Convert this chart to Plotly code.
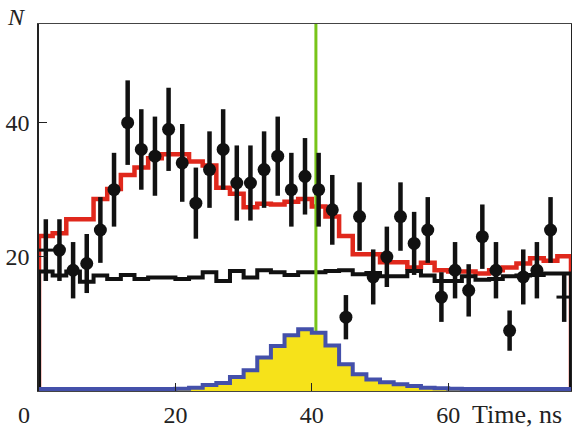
import plotly.graph_objects as go

# ---- data ----
bin_edges = [0, 2, 4, 6, 8, 10, 12, 14, 16, 18, 20, 22, 24, 26, 28, 30, 32, 34, 36, 38,
             40, 42, 44, 46, 48, 50, 52, 54, 56, 58, 60, 62, 64, 66, 68, 70, 72, 74, 76, 78]

red_total = [23.1, 23.5, 25.6, 25.6, 28.6, 30.1, 32.2, 33.3, 34.7, 35.3,
             35.3, 34.2, 33.6, 30.3, 29.4, 27.4, 27.9, 27.8, 28.2, 28.6,
             27.5, 26.0, 23.1, 20.4, 20.4, 19.2, 19.2, 18.4, 19.1, 18.0,
             17.8, 17.8, 17.5, 18.0, 18.4, 19.0, 19.8, 19.4, 20.1]

black_bg = [17.8, 17.2, 17.8, 16.3, 17.2, 16.7, 17.3, 16.7, 16.9, 16.9,
            16.7, 16.9, 17.7, 16.4, 17.9, 16.9, 18.0, 17.7, 17.3, 17.7,
            17.7, 17.9, 18.0, 17.4, 17.6, 17.1, 17.1, 17.9, 17.2, 16.4,
            16.4, 17.1, 16.6, 16.7, 17.1, 17.2, 17.3, 17.5, 17.5]

signal = [0.3, 0.3, 0.3, 0.3, 0.3, 0.3, 0.3, 0.3, 0.3, 0.3,
          0.35, 0.5, 0.9, 1.2, 2.1, 3.1, 5.0, 6.7, 8.3, 9.2,
          8.7, 6.8, 4.0, 2.5, 1.7, 1.3, 1.0, 0.75, 0.5, 0.4,
          0.35, 0.3, 0.3, 0.3, 0.3, 0.3, 0.3, 0.3, 0.3]

pt_x = [1, 3, 5, 7, 9, 11, 13, 15, 17, 19, 21, 23, 25, 27, 29, 31, 33, 35, 37, 39,
        41, 43, 45, 47, 49, 51, 53, 55, 57, 59, 61, 63, 65, 67, 69, 71, 73, 75, 77]
pt_n = [21, 21, 18, 19, 24, 30, 40, 36, 35, 39, 34, 28, 33, 36, 31, 31, 33, 35, 30, 32,
        30, 27, 11, 26, 17, 20, 26, 22, 24, 14, 18, 15, 23, 18, 9, 17, 18, 24, 14]
pt_err = [4.6, 4.6, 4.2, 4.4, 4.9, 5.5, 6.3, 6.0, 5.9, 6.2, 5.8, 5.3, 5.7, 6.0, 5.6, 5.6,
          5.7, 5.9, 5.5, 5.7, 5.5, 5.2, 3.3, 5.1, 4.1, 4.5, 5.1, 4.7, 4.9, 3.7, 4.2, 3.9,
          4.8, 4.2, 3.0, 4.1, 4.2, 4.9, 3.7]

green_x = 40.6
green_y = [8.9, 54.7]

x_ticks = [20, 40, 60]
y_ticks = [20, 40]

X_RANGE = [0, 78]
Y_RANGE = [0, 54.7]


def step(vals):
    xs = [bin_edges[0]] + bin_edges[:-1] + [bin_edges[-1], bin_edges[-1]]
    ys = [0] + list(vals) + [vals[-1], 0]
    return xs, ys


fig = go.Figure()

rx, ry = step(red_total)
fig.add_trace(go.Scatter(x=rx, y=ry, mode='lines', line=dict(color='#e0281c', width=4.5, shape='hv'),
                         hoverinfo='skip'))

bx, by = step(black_bg)
fig.add_trace(go.Scatter(x=bx, y=by, mode='lines', line=dict(color='#111111', width=4, shape='hv'),
                         hoverinfo='skip'))

fig.add_trace(go.Scatter(x=[green_x, green_x], y=green_y, mode='lines',
                         line=dict(color='#78c41a', width=3), hoverinfo='skip'))

sx, sy = step(signal)
fig.add_trace(go.Scatter(x=sx, y=sy, mode='lines', fill='tozeroy', fillcolor='#f6e21a',
                         line=dict(color='#4450aa', width=4, shape='hv'), hoverinfo='skip'))

# main data points
fig.add_trace(go.Scatter(
    x=pt_x[1:-1], y=pt_n[1:-1], mode='markers',
    marker=dict(size=13, color='#111111'),
    error_y=dict(type='data', array=pt_err[1:-1], thickness=4.5, width=0, color='#111111'),
    cliponaxis=False, hoverinfo='skip'))

# edge points (drawn without circle)
fig.add_trace(go.Scatter(
    x=[pt_x[0], pt_x[-1]], y=[pt_n[0], pt_n[-1]], mode='markers',
    marker=dict(symbol='line-ew', size=11, color='#111111', line=dict(color='#111111', width=3)),
    error_y=dict(type='data', array=[pt_err[0], pt_err[-1]], thickness=4.5, width=0, color='#111111'),
    cliponaxis=False, hoverinfo='skip'))

SERIF = 'Liberation Serif'
font_main = dict(family=SERIF, size=24, color='#222222')

fig.update_layout(
    width=572, height=434,
    margin=dict(l=39, r=1, t=24, b=43, autoexpand=False),
    paper_bgcolor='white', plot_bgcolor='white',
    showlegend=False,
    font=font_main,
    xaxis=dict(range=X_RANGE, tickvals=x_ticks, ticktext=[str(v) for v in x_ticks],
               ticks='inside', ticklen=8, tickcolor='#222', tickwidth=1,
               showgrid=False, zeroline=False, showline=True, linecolor='#444', linewidth=1,
               mirror=True, tickfont=font_main, ticklabelstandoff=2, automargin=False),
    yaxis=dict(range=Y_RANGE, tickvals=y_ticks, ticktext=[str(v) for v in y_ticks],
               ticks='inside', ticklen=8, tickcolor='#222', tickwidth=1,
               showgrid=False, zeroline=False, showline=True, linecolor='#222', linewidth=1.5,
               mirror=True, tickfont=font_main, ticklabelstandoff=3, automargin=False),
    annotations=[
        dict(text='0', x=-0.028, xref='paper', y=-0.065, yref='paper', showarrow=False,
             xanchor='center', yanchor='middle', font=font_main),
        dict(text='Time, ns', x=0.899, xref='paper', y=-0.065, yref='paper', showarrow=False,
             xanchor='center', yanchor='middle', font=dict(family=SERIF, size=26, color='#222222')),
        dict(text='<i>N</i>', x=-0.043, xref='paper', y=1.02, yref='paper', showarrow=False,
             xanchor='center', yanchor='middle', font=font_main),
    ],
)

fig.write_html('out.html', config={'displayModeBar': False},
               post_script="document.body.style.margin='0px';document.body.style.padding='0px';")
